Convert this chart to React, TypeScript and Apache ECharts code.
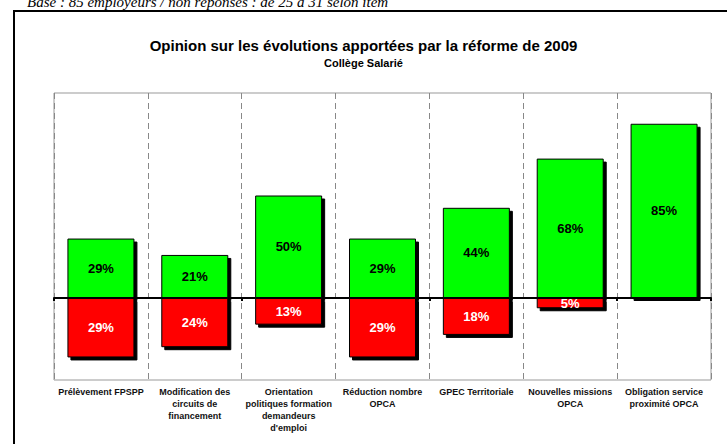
import React, { useEffect, useRef } from "react";
import * as echarts from "echarts";

const categories = [
  "Prélèvement FPSPP",
  "Modification des\ncircuits de\nfinancement",
  "Orientation\npolitiques formation\ndemandeurs\nd'emploi",
  "Réduction nombre\nOPCA",
  "GPEC Territoriale",
  "Nouvelles missions\nOPCA",
  "Obligation service\nproximité OPCA",
];
const positiveValues = [29, 21, 50, 29, 44, 68, 85];
const negativeValues: (number | null)[] = [-29, -24, -13, -29, -18, -5, null];

const FONT = "'Liberation Sans', Arial, sans-serif";

export default function App() {
  const ref = useRef<HTMLDivElement>(null);
  useEffect(() => {
    if (!ref.current) return;
    const chart = echarts.init(ref.current, null, { renderer: "svg" });
    const shadow = {
      borderColor: "#000",
      borderWidth: 1,
      shadowColor: "#000",
      shadowOffsetX: 3,
      shadowOffsetY: 3,
      shadowBlur: 0,
    };
    chart.setOption({
      animation: false,
      backgroundColor: "#fff",
      title: {
        text: "Opinion sur les évolutions apportées par la réforme de 2009",
        subtext: "Collège Salarié",
        left: "center",
        top: 33,
        itemGap: 4,
        textStyle: { fontFamily: FONT, fontSize: 15, fontWeight: "bold", color: "#000" },
        subtextStyle: { fontFamily: FONT, fontSize: 11, fontWeight: "bold", color: "#000" },
      },
      graphic: [
        {
          type: "rect",
          shape: { x: 14, y: 11, width: 730, height: 450 },
          style: { fill: "none", stroke: "#000", lineWidth: 2 },
          silent: true,
          z: 100,
        },
        {
          type: "text",
          x: 27,
          y: 9,
          style: {
            text: "Base : 85 employeurs / non réponses : de 25 à 31 selon item",
            font: "italic 15px 'Liberation Serif', 'Times New Roman', serif",
            fill: "#000",
            verticalAlign: "bottom",
          },
          silent: true,
        },
      ],
      grid: {
        left: 54,
        right: 16,
        top: 93,
        bottom: 64,
        show: true,
        borderColor: "#999",
        borderWidth: 1,
        backgroundColor: "#fff",
      },
      xAxis: [
        {
          type: "category",
          data: categories,
          position: "bottom",
          axisLine: { show: true, onZero: true, lineStyle: { color: "#000", width: 2 } },
          axisTick: { show: true, length: 3, lineStyle: { color: "#000", width: 2 } },
          axisLabel: { show: false },
          splitLine: {
            show: true,
            interval: 0,
            lineStyle: { color: "#888", type: [6, 4], width: 1 },
          },
        },
        {
          type: "category",
          data: categories,
          position: "bottom",
          gridIndex: 0,
          axisLine: { show: false, onZero: false },
          axisTick: { show: false },
          splitLine: { show: false },
          axisLabel: {
            show: true,
            interval: 0,
            hideOverlap: false,
            margin: 6,
            fontFamily: FONT,
            fontSize: 9,
            fontWeight: "bold",
            lineHeight: 12,
            color: "#111",
          },
        },
      ],
      yAxis: {
        type: "value",
        min: -40,
        max: 100,
        show: false,
        splitLine: { show: false },
      },
      series: [
        {
          type: "bar",
          name: "Positif",
          stack: "total",
          data: positiveValues,
          barWidth: 67,
          itemStyle: { color: "#00ff00", ...shadow },
          label: {
            show: true,
            position: "inside",
            formatter: (p: any) => `${Math.abs(p.value)}%`,
            color: "#000",
            fontFamily: FONT,
            fontSize: 13,
            fontWeight: "bold",
          },
        },
        {
          type: "bar",
          name: "Négatif",
          stack: "total",
          data: negativeValues,
          barWidth: 67,
          itemStyle: { color: "#ff0000", ...shadow },
          label: {
            show: true,
            position: "inside",
            formatter: (p: any) => `${Math.abs(p.value)}%`,
            color: "#fff",
            fontFamily: FONT,
            fontSize: 13,
            fontWeight: "bold",
          },
        },
      ],
    });
    return () => chart.dispose();
  }, []);
  return (
    <div
      ref={ref}
      style={{ position: "fixed", left: 0, top: 0, width: 727, height: 444, background: "#fff" }}
    />
  );
}
